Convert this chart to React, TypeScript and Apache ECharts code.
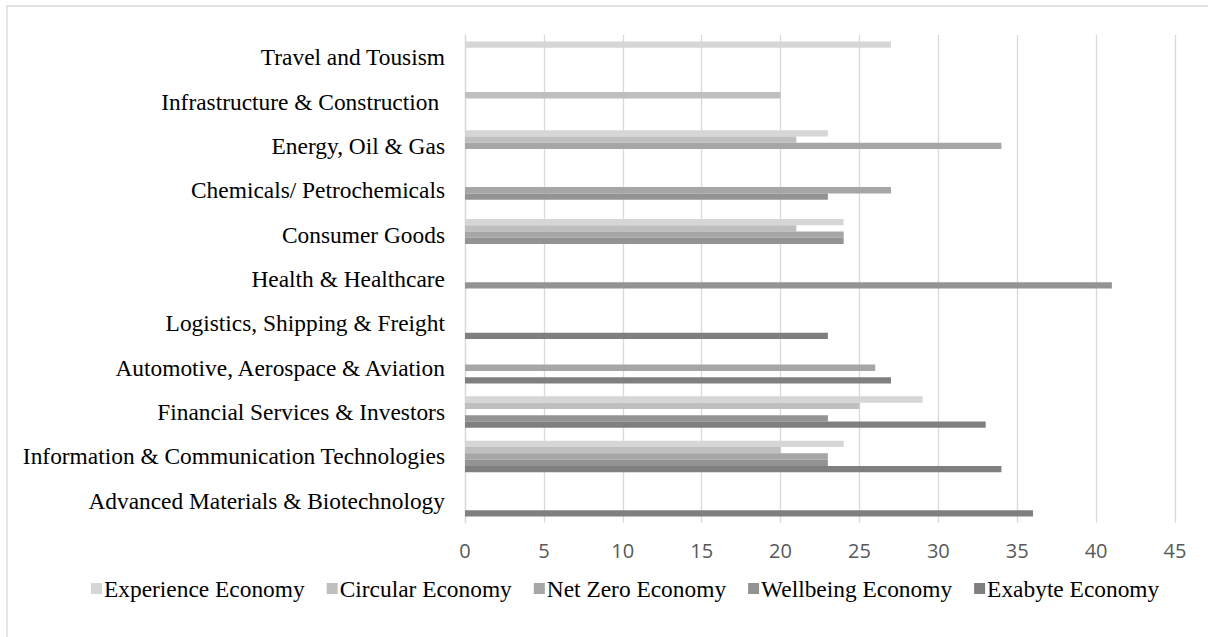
import React, { useEffect, useRef } from "react";
import * as echarts from "echarts";

const categories = [
  "Advanced Materials & Biotechnology",
  "Information & Communication Technologies",
  "Financial Services & Investors",
  "Automotive, Aerospace & Aviation",
  "Logistics, Shipping & Freight",
  "Health & Healthcare",
  "Consumer Goods",
  "Chemicals/ Petrochemicals",
  "Energy, Oil & Gas",
  "Infrastructure & Construction ",
  "Travel and Tousism",
];

const seriesNames = [
  "Experience Economy",
  "Circular Economy",
  "Net Zero Economy",
  "Wellbeing Economy",
  "Exabyte Economy",
];

const experience = [null, 24, 29, null, null, null, 24, null, 23, null, 27];
const circular = [null, 20, 25, null, null, null, 21, null, 21, 20, null];
const netZero = [null, 23, null, 26, null, null, 24, 27, 34, null, null];
const wellbeing = [null, 23, 23, null, null, 41, 24, 23, null, null, null];
const exabyte = [36, 34, 33, 27, 23, null, null, null, null, null, null];

const xTicks = { min: 0, max: 45, interval: 5 };

const colors = ["#d6d6d6", "#bfbfbf", "#a6a6a6", "#939393", "#7f7f7f"];

export default function App() {
  const ref = useRef<HTMLDivElement>(null);
  useEffect(() => {
    if (!ref.current) return;
    const chart = echarts.init(ref.current, undefined, { renderer: "svg" });
    const data = [experience, circular, netZero, wellbeing, exabyte];
    chart.setOption({
      animation: false,
      backgroundColor: "#ffffff",
      color: colors,
      grid: { left: 465, right: 33, top: 35, bottom: 114, containLabel: false },
      legend: {
        data: seriesNames,
        left: 86,
        top: 572,
        icon: "rect",
        itemWidth: 11,
        itemHeight: 11,
        itemGap: 22,
        textStyle: {
          fontFamily: "Liberation Serif",
          fontSize: 23.4,
          color: "#000000",
          padding: [0, 0, 0, -3],
        },
      },
      xAxis: {
        type: "value",
        min: xTicks.min,
        max: xTicks.max,
        interval: xTicks.interval,
        axisLine: { show: false },
        axisTick: { show: false },
        splitLine: { show: true, lineStyle: { color: "#d9d9d9", width: 1.3 } },
        axisLabel: {
          fontFamily: "Open Sans",
          fontSize: 20,
          color: "#595959",
          margin: 17,
        },
      },
      yAxis: {
        type: "category",
        data: categories,
        axisLine: { show: true, lineStyle: { color: "#d9d9d9", width: 1.3 } },
        axisTick: { show: false },
        axisLabel: {
          fontFamily: "Liberation Serif",
          fontSize: 23.4,
          color: "#000000",
          margin: 20,
        },
      },
      graphic: [
        {
          type: "rect",
          shape: { x: 7, y: 6, width: 1300, height: 700 },
          style: { fill: "none", stroke: "#d9d9d9", lineWidth: 1.3 },
          silent: true,
        },
      ],
      series: seriesNames.map((name, i) => ({
        name,
        type: "bar",
        data: data[i].map((v) => (v === null ? "-" : v)),
        barWidth: 6.3,
        barGap: "0%",
        itemStyle: { color: colors[i] },
      })),
    });
    return () => chart.dispose();
  }, []);
  return (
    <div
      ref={ref}
      style={{ position: "absolute", left: 0, top: 0, width: 1208, height: 637 }}
    />
  );
}
